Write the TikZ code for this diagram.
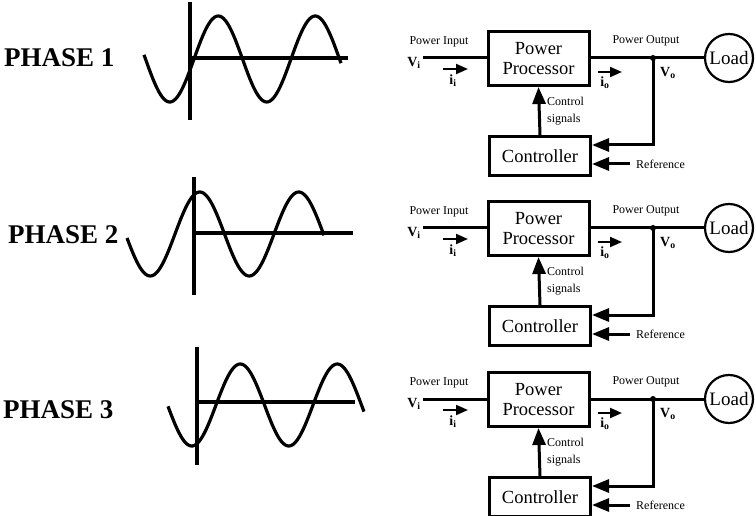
\documentclass[tikz,border=0pt]{standalone}
\usepackage{fontspec}
\setmainfont{Liberation Serif}
\usetikzlibrary{arrows.meta}
\begin{document}
\begin{tikzpicture}[x=1pt,y=-1pt,
  wire/.style={line width=3pt},
  bigarrow/.style={-{Triangle[length=17pt,width=13pt]}},
  smallarrow/.style={line width=2pt,-{Triangle[length=12pt,width=10pt]}},
  box/.style={draw, line width=3pt, inner sep=0pt, align=center, font=\fontsize{18.5}{20}\selectfont},
  loadc/.style={draw, circle, line width=2.2pt, minimum size=48pt, inner sep=0pt, font=\fontsize{19}{20}\selectfont},
  small/.style={inner sep=0pt, font=\fontsize{12}{17}\selectfont},
  vlab/.style={inner sep=0pt, font=\fontsize{14}{14}\selectfont\bfseries},
  ilab/.style={inner sep=0pt, font=\fontsize{14}{14}\selectfont\bfseries},
  phase/.style={inner sep=0pt, anchor=west, font=\fontsize{27}{27}\selectfont\bfseries},
  axis/.style={line width=3.2pt},
  wave/.style={line width=3.2pt, smooth, samples=120}]
\useasboundingbox (0,0) rectangle (756,516);

% phase labels
\node[phase] (ph1) at (4,58) {PHASE 1};
\node[phase] (ph2) at (8,235) {PHASE 2};
\node[phase] (ph3) at (3,410) {PHASE 3};

% waveform 1
\draw[axis] (190,2) -- (190,120);
\draw[axis] (190,58) -- (348,58);
\draw[wave] plot[domain=144:341] (\x,{59-43*sin(3.71134*(\x-194))});
% waveform 2
\draw[axis] (194,177) -- (194,295);
\draw[axis] (194,233) -- (353,233);
\draw[wave] plot[domain=127:324] (\x,{234-42*sin(3.63636*(\x-175))});
% waveform 3
\draw[axis] (197,347) -- (197,465);
\draw[axis] (197,402) -- (355,402);
\draw[wave] plot[domain=168:364] (\x,{405-41*sin(3.71134*(\x-216))});

\foreach \k/\dy in {1/0,2/170,3/341}{
\begin{scope}[shift={(0,\dy)}]
  \node[box, minimum width=101pt, minimum height=54pt] (pp\k) at (538.5,58.5) {Power\\Processor};
  \node[box, minimum width=101pt, minimum height=39pt] (ctrl\k) at (540,156) {Controller};
  \node[loadc] (load\k) at (729,58) {Load};
  \coordinate (in\k) at (423,58);
  \coordinate (j\k) at (653,58);
  \coordinate (fb\k) at (653,145);
  \coordinate (ref\k) at (630,164);
  \coordinate (ia\k) at (443,69);
  \coordinate (ib\k) at (468,69);
  \coordinate (oa\k) at (598,72);
  \coordinate (ob\k) at (622,72);
  \draw[wire] (in\k) -- (pp\k.west |- in\k);
  \draw[wire] (pp\k.east |- j\k) -- (load\k.west);
  \fill (j\k) circle (3pt);
  \draw[wire, bigarrow] (ctrl\k.north) -- (pp\k.south);
  \draw[wire, bigarrow] (j\k) -- (fb\k) -- (ctrl\k.east |- fb\k);
  \draw[wire, bigarrow] (ref\k) -- (ctrl\k.east |- ref\k);
  \draw[smallarrow] (ia\k) -- (ib\k);
  \draw[smallarrow] (oa\k) -- (ob\k);
  \node[small] (pin\k) at (439,42) {Power Input};
  \node[small] (pout\k) at (646,41) {Power Output};
  \node[vlab] (vi\k) at (414,63) {V\textsubscript{i}};
  \node[vlab] (vo\k) at (668,73) {V\textsubscript{o}};
  \node[ilab] (ii\k) at (453,81) {i\textsubscript{i}};
  \node[ilab] (io\k) at (605,83) {i\textsubscript{o}};
  \node[small, anchor=west, align=left] (cs\k) at (547,111) {Control\\signals};
  \node[small, anchor=west] (rf\k) at (636,164) {Reference};
\end{scope}}
\end{tikzpicture}
\end{document}
